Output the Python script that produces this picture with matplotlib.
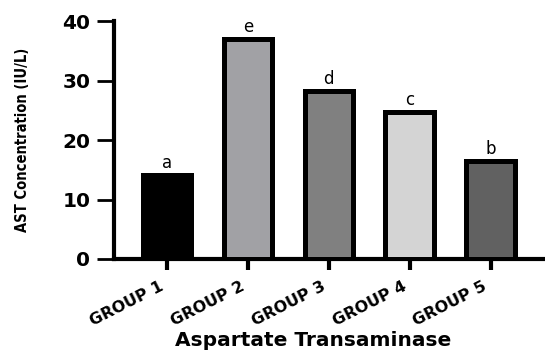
import matplotlib.pyplot as plt

# AST values per group with significance letters
groups = ['GROUP 1', 'GROUP 2', 'GROUP 3', 'GROUP 4', 'GROUP 5']
ast = [14.1, 37.1, 28.3, 24.8, 16.5]
letters = ['a', 'e', 'd', 'c', 'b']
colores = ['#000000', '#a1a1a5', '#808080', '#d4d4d4', '#616161']

fig = plt.figure(figsize=(5.45, 3.5), dpi=100)
ax = fig.add_axes([0.209, 0.26, 0.791, 0.679])

x = list(range(len(groups)))
ax.bar(x, ast, width=0.6, color=colores, edgecolor='black', linewidth=3.6, zorder=3)

# letras encima de cada barra
for i, v in enumerate(ast):
    ax.text(i, v + 0.5, letters[i], ha='center', va='bottom', fontsize=12,
            clip_on=False)

ax.set_xlim(-0.654, 4.67)
ax.set_ylim(0, 40)
ax.set_yticks([0, 10, 20, 30, 40])

# marcas en cada barra; los nombres van en ticks menores algo corridos a la izquierda
ax.set_xticks(x)
ax.set_xticklabels([])
ax.set_xticks([i - 0.1 for i in x], minor=True)
ax.set_xticklabels(groups, minor=True, rotation=27, ha='right', rotation_mode='anchor',
                   fontsize=11.5, fontweight='bold')
ax.tick_params(axis='x', which='minor', length=0, pad=14)

for lab in ax.get_yticklabels():
    lab.set_fontweight('heavy')
    lab.set_fontsize(14.5)

ax.spines['top'].set_visible(False)
ax.spines['right'].set_visible(False)
ax.spines['left'].set_linewidth(3)
ax.spines['bottom'].set_linewidth(3)
ax.tick_params(axis='y', length=12, width=2, pad=5)
ax.tick_params(axis='x', which='major', length=8, width=3)

ax.set_ylabel('AST Concentration (IU/L)', fontsize=10.5, fontweight='bold',
              fontstretch='condensed')
ax.yaxis.set_label_coords(-0.195, 0.5)
ax.set_xlabel('Aspartate Transaminase', fontsize=14.5, fontweight='bold')
ax.xaxis.set_label_coords(0.462, -0.305)

plt.savefig('out.png', dpi=100)
